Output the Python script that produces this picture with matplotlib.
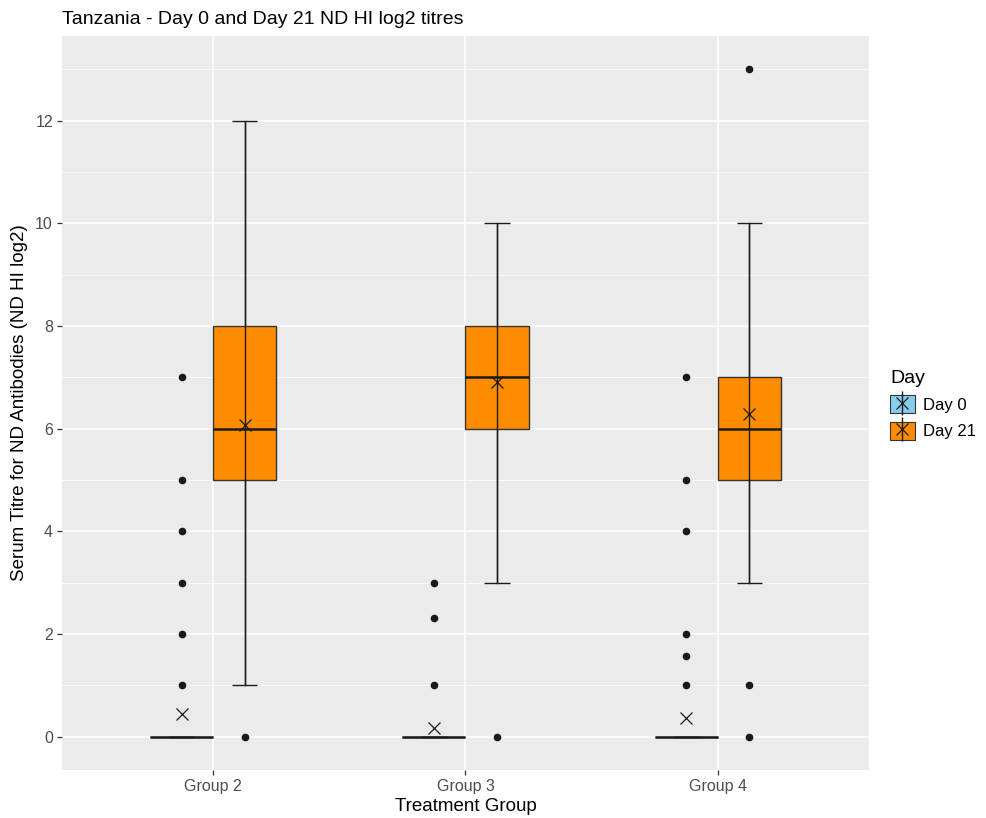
import matplotlib
matplotlib.use("Agg")
import matplotlib.pyplot as plt
import numpy as np
from matplotlib.patches import Patch
from matplotlib.lines import Line2D
from matplotlib.legend_handler import HandlerTuple

plt.rcParams['font.family'] = ['Liberation Sans', 'DejaVu Sans']

groups = ['Group 2', 'Group 3', 'Group 4']
days = ['Day 0', 'Day 21']
colors = ['#87CEEB', '#FF8C00']

# Day 0 statistics
d0_q1 = [0, 0, 0]
d0_med = [0, 0, 0]
d0_q3 = [0, 0, 0]
d0_whislo = [0, 0, 0]
d0_whishi = [0, 0, 0]
d0_mean = [0.45, 0.17, 0.37]
d0_fliers = [[1, 2, 3, 4, 5, 7], [1, 2.32, 3], [1, 1.58, 2, 4, 5, 7]]

# Day 21 statistics
d21_q1 = [5, 6, 5]
d21_med = [6, 7, 6]
d21_q3 = [8, 8, 7]
d21_whislo = [1, 3, 3]
d21_whishi = [12, 10, 10]
d21_mean = [6.07, 6.90, 6.28]
d21_fliers = [[0], [0], [0, 1, 13]]

yticks = [0, 2, 4, 6, 8, 10, 12]

series = [
    (d0_q1, d0_med, d0_q3, d0_whislo, d0_whishi, d0_mean, d0_fliers),
    (d21_q1, d21_med, d21_q3, d21_whislo, d21_whishi, d21_mean, d21_fliers),
]

W, H = 987, 818
fig = plt.figure(figsize=(W / 100, H / 100), dpi=100)
ax = fig.add_axes([62 / W, (H - 770) / H, (869 - 62) / W, (770 - 36) / H])
ax.set_facecolor('#EBEBEB')

x = np.arange(1, len(groups) + 1)
offs = [-0.125, 0.125]
bw = 0.25
capw = 0.1

for (q1, med, q3, wlo, whi, mean, fl), off, col in zip(series, offs, colors):
    stats = []
    for i in range(len(groups)):
        stats.append(dict(q1=q1[i], med=med[i], q3=q3[i], whislo=wlo[i],
                          whishi=whi[i], mean=mean[i], fliers=[]))
    pos = x + off
    ax.bxp(stats, positions=pos, widths=bw, patch_artist=True,
           showcaps=False, showfliers=False, showmeans=False,
           boxprops=dict(facecolor=col, edgecolor='#333333', linewidth=1.0),
           medianprops=dict(color='#1a1a1a', linewidth=1.8),
           whiskerprops=dict(color='#333333', linewidth=1.0), zorder=3)
    ax.vlines(pos, wlo, whi, color='#1a1a1a', linewidth=1.0, zorder=4)
    ax.hlines(wlo, pos - capw / 2, pos + capw / 2, color='#1a1a1a', linewidth=1.0, zorder=4)
    ax.hlines(whi, pos - capw / 2, pos + capw / 2, color='#1a1a1a', linewidth=1.0, zorder=4)
    for i in range(len(groups)):
        ax.plot([pos[i]] * len(fl[i]), fl[i], 'o', color='#1a1a1a',
                markersize=4.5, zorder=5)
    ax.plot(pos, mean, 'x', color='#1a1a1a', markersize=9, mew=0.9, zorder=6)

ax.set_xlim(0.4, 3.6)
ax.set_ylim(-0.65, 13.65)
ax.set_xticks(x)
ax.set_xticklabels(groups)
ax.set_yticks(yticks)
ax.set_yticks(np.arange(1, 14, 2), minor=True)
ax.grid(True, which='major', color='white', linewidth=1.2, zorder=0)
ax.grid(True, which='minor', axis='y', color='white', linewidth=0.6, zorder=0)
ax.set_axisbelow(True)
for s in ax.spines.values():
    s.set_visible(False)
ax.tick_params(axis='both', which='major', length=3.5, width=0.9, color='#333333',
               labelcolor='#4D4D4D', labelsize=11.5, pad=3)
ax.tick_params(axis='y', which='minor', length=0)

ax.set_xlabel('Treatment Group', fontsize=13.5, color='black', labelpad=3)
ax.set_ylabel('Serum Titre for ND Antibodies (ND HI log2)', fontsize=13.5,
              color='black', labelpad=5)
fig.text(62 / W, 1 - 20 / H, 'Tanzania - Day 0 and Day 21 ND HI log2 titres',
         fontsize=14, ha='left', va='center')

handles = []
for col in colors:
    handles.append((Patch(facecolor='#F2F2F2', edgecolor='none'),
                    Patch(facecolor=col, edgecolor='#333333', linewidth=0.8),
                    Line2D([], [], marker='|', markersize=17, mew=1.0, color='#1a1a1a', linestyle='none'),
                    Line2D([], [], marker='x', markersize=8, mew=0.9, color='#1a1a1a', linestyle='none')))
leg = fig.legend(handles, days, handler_map={tuple: HandlerTuple(ndivide=1, pad=0)},
                 loc='upper left', bbox_to_anchor=(890 / W, 1 - 370 / H),
                 title='Day', frameon=False, fontsize=12, title_fontsize=14,
                 handlelength=1.5, handleheight=1.3, handletextpad=0.5,
                 labelspacing=0.5, borderaxespad=0, borderpad=0)
leg._legend_box.align = 'left'

fig.savefig('out.png', dpi=100, facecolor='white')
